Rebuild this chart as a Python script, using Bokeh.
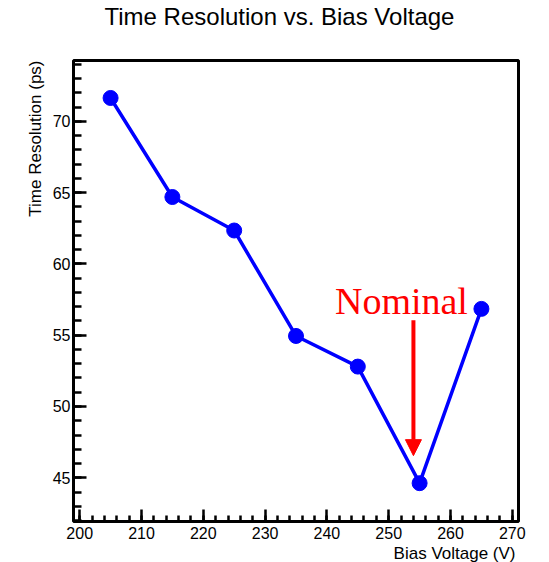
from bokeh.plotting import figure
from bokeh.models import (Range1d, SingleIntervalTicker, Label, Arrow, NormalHead,
                          ColumnDataSource, Title)
from bokeh.embed import file_html
from bokeh.resources import INLINE

# ---- data ----
bias_voltage = [205, 215, 225, 235, 245, 255, 265]
time_resolution = [71.65, 64.7, 62.35, 54.95, 52.8, 44.62, 56.85]
x_limits = (199, 271)
y_limits = (41.93, 74.28)
title_text = "Time Resolution vs. Bias Voltage"
x_label_text = "Bias Voltage (V)"
y_label_text = "Time Resolution (ps)"
nominal_text = "Nominal"
nominal_voltage = 254.0
arrow_top = 56.05
arrow_tip = 46.55
nominal_label_x = 241.3
nominal_label_y = 57.37

FONT = "Liberation Sans"

p = figure(width=549, height=562, output_backend="svg", toolbar_location=None,
           x_range=Range1d(*x_limits), y_range=Range1d(*y_limits),
           min_border_left=73, min_border_right=31, min_border_top=60, min_border_bottom=41)
p.grid.visible = False
p.outline_line_color = "black"
p.outline_line_width = 3
p.background_fill_color = "white"
p.border_fill_color = "white"

# main title: a spacer panel next to the frame pushes the title to the top of the page
spacer = Title(text=" ", text_font=FONT, text_font_size="24px", standoff=0)
main_title = Title(text=title_text, align="left", offset=31, vertical_align="top", standoff=0,
                   text_font=FONT, text_font_size="24px", text_font_style="normal",
                   text_color="black")
p.add_layout(spacer, "above")
p.add_layout(main_title, "above")

p.xaxis.ticker = SingleIntervalTicker(interval=10, num_minor_ticks=5)
p.yaxis.ticker = SingleIntervalTicker(interval=5, num_minor_ticks=5)
for ax in (p.xaxis, p.yaxis):
    ax.axis_line_color = None
    ax.major_tick_out = 0
    ax.minor_tick_out = 0
    ax.major_tick_line_width = 2.5
    ax.minor_tick_line_width = 2.5
    ax.major_tick_line_color = "black"
    ax.minor_tick_line_color = "black"
    ax.major_label_text_font = FONT
    ax.major_label_text_font_size = "16px"
    ax.major_label_text_color = "black"
p.xaxis.major_label_standoff = 5
p.yaxis.major_label_standoff = 3
p.xaxis.major_tick_in = 12
p.xaxis.minor_tick_in = 6
p.yaxis.major_tick_in = 13
p.yaxis.minor_tick_in = 8

# axis titles as side-panel titles (right/top aligned like the reference)
x_title = Title(text=x_label_text, align="right", text_font=FONT, text_font_size="17px",
                text_font_style="normal", text_color="black", standoff=0, offset=3)
y_title = Title(text=y_label_text, align="right", text_font=FONT, text_font_size="17px",
                text_font_style="normal", text_color="black", standoff=10)
p.add_layout(x_title, "below")
p.add_layout(y_title, "left")

src = ColumnDataSource(dict(x=bias_voltage, y=time_resolution))
p.line("x", "y", source=src, line_color="#0000ff", line_width=3.5)
p.scatter("x", "y", source=src, size=15, fill_color="#0000ff", line_color="#0000ff")

p.add_layout(Arrow(end=NormalHead(size=16, fill_color="#ff0000", line_color="#ff0000"),
                   x_start=nominal_voltage, y_start=arrow_top,
                   x_end=nominal_voltage, y_end=arrow_tip,
                   line_color="#ff0000", line_width=4))
p.add_layout(Label(x=nominal_label_x, y=nominal_label_y, text=nominal_text,
                   text_font="Liberation Serif", text_font_size="38px",
                   text_color="#ff0000", text_align="left", text_baseline="alphabetic"))

open("out.html", "w").write(file_html(p, INLINE))
